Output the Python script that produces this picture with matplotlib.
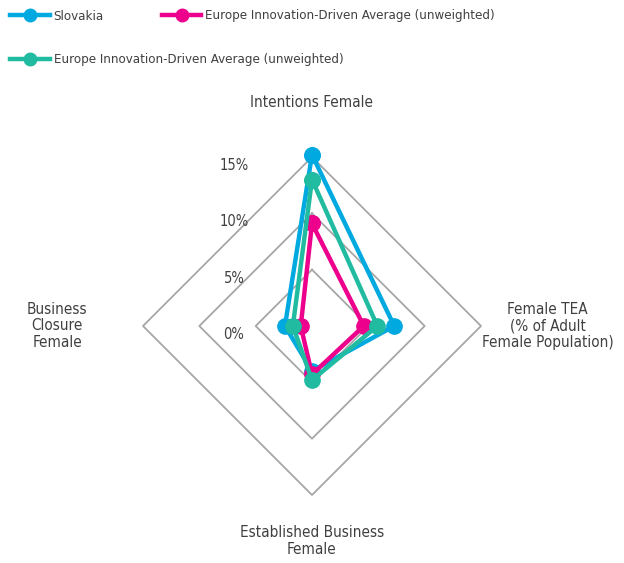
import numpy as np
import matplotlib
matplotlib.use('Agg')
import matplotlib.pyplot as plt
from matplotlib.lines import Line2D
from matplotlib.transforms import offset_copy

# datos (en %)
categories = ['Intentions Female',
              'Female TEA\n(% of Adult\nFemale Population)',
              'Established Business\nFemale',
              'Business\nClosure\nFemale']
slovakia = [15.2, 7.3, 4.0, 2.4]
europe_pink = [9.1, 4.6, 4.3, 1.0]
europe_green = [13.0, 5.8, 4.8, 1.7]
series_names = ['Slovakia',
                'Europe Innovation-Driven Average (unweighted)',
                'Europe Innovation-Driven Average (unweighted)']
tick_values = [0, 5, 10, 15]
tick_labels = ['0%', '5%', '10%', '15%']

colors = ['#00A9E0', '#EC008C', '#20BBA0']
grid_color = '#A6A6A6'
text_color = '#404040'

plt.rcParams['font.family'] = ['DejaVu Sans']
plt.rcParams['font.stretch'] = 'condensed'

fig = plt.figure(figsize=(6.24, 5.63), dpi=100)
ax = fig.add_axes([143 / 624, 68 / 563, 338 / 624, 338 / 563], projection='polar')
ax.set_theta_offset(np.pi / 2)
ax.set_theta_direction(-1)
ax.set_ylim(0, 15)
ax.grid(False)
ax.spines['polar'].set_visible(False)
ax.set_xticks([])
ax.set_yticks([])
ax.patch.set_alpha(0)

angles = np.linspace(0, 2 * np.pi, len(categories), endpoint=False)
closed = np.append(angles, angles[0])

# rejilla en forma de rombo
for r in tick_values[1:]:
    ax.plot(closed, [r] * len(closed), color=grid_color, lw=1.3, zorder=1, clip_on=False)

# series
for vals, col in zip([slovakia, europe_pink, europe_green], colors):
    v = np.append(vals, vals[0])
    ax.plot(closed, v, color=col, lw=3.2, marker='o', markersize=11,
            zorder=3, clip_on=False, solid_joinstyle='round')

# etiquetas de escala
tick_tr = offset_copy(ax.transData, fig=fig, x=-78, y=-8.5, units='dots')
for val, lab in zip(tick_values, tick_labels):
    ax.text(0, val, lab, transform=tick_tr, ha='center', va='center',
            fontsize=10.5, color=text_color)

# etiquetas de categorias
label_r = [19.8, 20.9, 19.1, 22.6]
for ang, lab, r in zip(angles, categories, label_r):
    ax.text(ang, r, lab, ha='center', va='center', multialignment='center',
            fontsize=11, color=text_color, linespacing=1.12)

# leyenda
handles = [Line2D([], [], color=c, lw=3.2, marker='o', markersize=9) for c in colors]
leg1 = fig.legend(handles[:2], series_names[:2], ncol=2, loc='center left',
                  bbox_to_anchor=(10 / 624, 1 - 16 / 563), frameon=False,
                  fontsize=9.5, borderpad=0, borderaxespad=0, handlelength=3.0,
                  handletextpad=0.3, columnspacing=4.4, labelcolor=text_color)
leg2 = fig.legend(handles[2:], series_names[2:], loc='center left',
                  bbox_to_anchor=(10 / 624, 1 - 60 / 563), frameon=False,
                  fontsize=9.5, borderpad=0, borderaxespad=0, handlelength=3.0,
                  handletextpad=0.3, labelcolor=text_color)

fig.savefig('out.png', dpi=100)
